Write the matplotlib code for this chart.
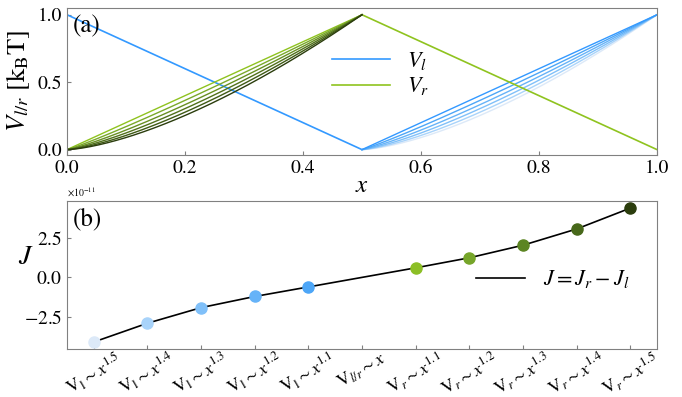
import numpy as np
import matplotlib
matplotlib.use("Agg")
import matplotlib.pyplot as plt
from matplotlib.ticker import ScalarFormatter

plt.rcParams['font.family'] = ['STIXGeneral', 'DejaVu Serif']
plt.rcParams['mathtext.fontset'] = 'stix'

# exponents of the potential branches
powers = [1.0, 1.1, 1.2, 1.3, 1.4, 1.5]

blue = '#3399ff'
green = '#8fc31f'
blue_shades = ['#3399ff', '#4da6f7', '#66b3f8', '#80c0f9', '#a8d3fa', '#dce9f8']
green_shades = ['#8fc31f', '#7aa92a', '#688f22', '#51711b', '#3f5a14', '#2b3d0d']

# current J for each case (units of 1e-11)
case_labels = [r'$\mathrm{V}_\mathrm{l}\sim x^{1.5}$', r'$\mathrm{V}_\mathrm{l}\sim x^{1.4}$',
               r'$\mathrm{V}_\mathrm{l}\sim x^{1.3}$', r'$\mathrm{V}_\mathrm{l}\sim x^{1.2}$',
               r'$\mathrm{V}_\mathrm{l}\sim x^{1.1}$', r'$\mathrm{V}_{l/r}\sim x$',
               r'$\mathrm{V}_r\sim x^{1.1}$', r'$\mathrm{V}_r\sim x^{1.2}$',
               r'$\mathrm{V}_r\sim x^{1.3}$', r'$\mathrm{V}_r\sim x^{1.4}$',
               r'$\mathrm{V}_r\sim x^{1.5}$']
J_values = [-4.06, -2.88, -1.9, -1.2, -0.6, 0.0, 0.6, 1.23, 2.02, 3.04, 4.35]
marker_colors = ['#dce9f8', '#a8d3fa', '#80c0f9', '#66b3f8', '#4da6f7', None,
                 '#8cbf26', '#76a52a', '#5c8522', '#47681a', '#2b3d0d']

fig = plt.figure(figsize=(6.82, 3.97), dpi=100)
ax1 = fig.add_axes([67/682, 1-155/397, 590/682, 147/397])
ax2 = fig.add_axes([67/682, 1-349/397, 590/682, 148/397])

xl = np.linspace(0, 0.5, 200)
xr = np.linspace(0.5, 1, 200)
u = (xl) / 0.5
w = (xr - 0.5) / 0.5

# V_l : linear drop on the left, power-law rise on the right
ax1.plot(xl, 1 - u, color=blue, lw=1.2, label=r'$V_l$')
for p, c in zip(powers[::-1], blue_shades[::-1]):
    ax1.plot(xr, w**p, color=c, lw=1.0)
# V_r : power-law rise on the left, linear drop on the right
ax1.plot(xr, 1 - w, color=green, lw=1.2, label=r'$V_r$')
for p, c in zip(powers, green_shades):
    ax1.plot(xl, u**p, color=c, lw=1.0)

ax1.set_xlim(0, 1)
ax1.set_ylim(-0.04, 1.05)
ax1.set_xticks([0, 0.2, 0.4, 0.6, 0.8, 1.0])
ax1.set_yticks([0, 0.5, 1.0])
ax1.set_xlabel(r'$x$', fontsize=18, labelpad=-2)
ax1.set_ylabel(r'$V_{l/r}$ [k$_\mathrm{B}$T]', fontsize=19, labelpad=4)
ax1.text(0.01, 0.96, '(a)', transform=ax1.transAxes, fontsize=18, va='top')
ax1.legend(loc='upper left', bbox_to_anchor=(0.415, 0.85), frameon=False, fontsize=16,
           handlelength=2.6, labelspacing=0.15, handletextpad=0.8)

xs = np.arange(len(J_values))
J = np.array(J_values) * 1e-11
ax2.plot(xs, J, color='black', lw=1.2, label=r'$J=J_r-J_l$', zorder=2)
for i in xs:
    if marker_colors[i] is not None:
        ax2.plot(xs[i], J[i], 'o', color=marker_colors[i], ms=8, zorder=3)
ax2.set_xlim(-0.5, 10.5)
ax2.set_ylim(-4.5e-11, 4.8e-11)
ax2.set_yticks([-2.5e-11, 0, 2.5e-11])
fmt = ScalarFormatter(useMathText=True)
fmt.set_powerlimits((0, 0))
ax2.yaxis.set_major_formatter(fmt)
ax2.set_xticks(xs)
ax2.set_xticklabels(case_labels, rotation=30, ha='center', fontsize=13)
ax2.set_ylabel(r'$J$', fontsize=20, rotation=0, va='center')
ax2.yaxis.set_label_coords(-0.07, 0.62)
ax2.yaxis.get_offset_text().set_fontsize(7)
ax2.text(0.01, 0.96, '(b)', transform=ax2.transAxes, fontsize=18, va='top')
ax2.legend(loc='upper left', bbox_to_anchor=(0.66, 0.68), frameon=False, fontsize=16,
           handlelength=2.2, handletextpad=0.8)

for ax in (ax1, ax2):
    for s in ax.spines.values():
        s.set_color('#808080')
    ax.tick_params(direction='in', length=3, color='#808080', labelsize=14)
ax2.tick_params(axis='x', labelsize=13, pad=0)

fig.savefig('out.png', dpi=100)
